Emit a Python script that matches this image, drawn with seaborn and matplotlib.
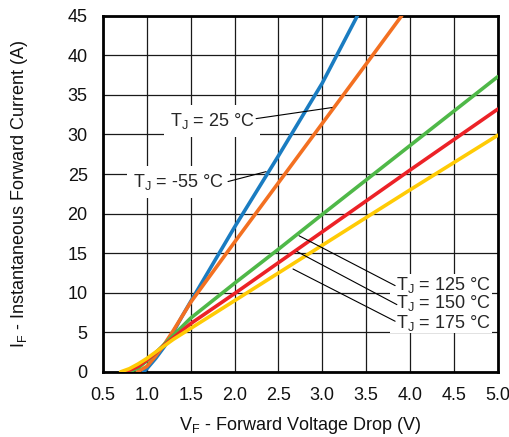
import numpy as np
import pandas as pd
import matplotlib
matplotlib.use("Agg")
import matplotlib.pyplot as plt
from matplotlib.patches import Rectangle
import seaborn as sns

# ── Data ────────────────────────────────────────────────────
TEMPS = ["-55", "25", "125", "150", "175"]

V_M55 = [0.96, 1.0, 1.1, 1.2, 1.3, 1.4, 1.5, 2.0, 2.5, 3.0, 3.40]
I_M55 = [0.0, 0.4, 1.7, 3.2, 5.0, 7.0, 8.9, 18.3, 27.3, 36.5, 45.0]

V_25 = [0.89, 1.0, 1.1, 1.2, 1.3, 1.4, 1.5, 2.0, 2.5, 3.0, 3.5, 3.905]
I_25 = [0.0, 0.7, 2.0, 3.5, 5.2, 7.0, 8.8, 16.4, 23.9, 31.4, 38.9, 45.0]

V_125 = [0.80, 0.9, 1.0, 1.1, 1.2, 1.3, 1.5, 2.0, 2.5, 3.0, 4.0, 5.0]
I_125 = [0.0, 0.5, 1.4, 2.4, 3.5, 4.6, 6.8, 11.2, 15.5, 19.9, 28.6, 37.3]

V_150 = [0.76, 0.9, 1.0, 1.1, 1.2, 1.3, 1.5, 2.0, 2.5, 3.0, 4.0, 5.0]
I_150 = [0.0, 0.7, 1.5, 2.4, 3.4, 4.3, 6.1, 9.9, 13.8, 17.7, 25.5, 33.2]

V_175 = [0.70, 0.8, 0.9, 1.0, 1.1, 1.2, 1.3, 1.5, 2.0, 2.5, 3.0, 4.0, 5.0]
I_175 = [0.0, 0.4, 1.0, 1.7, 2.5, 3.3, 4.1, 5.5, 9.0, 12.5, 16.0, 23.0, 29.9]

X_TICKS = [0.5, 1.0, 1.5, 2.0, 2.5, 3.0, 3.5, 4.0, 4.5, 5.0]
Y_TICKS = [0, 5, 10, 15, 20, 25, 30, 35, 40, 45]

COLORS = {"-55": "#1a7cc1", "25": "#f37021", "125": "#4fb848",
          "150": "#ec2227", "175": "#ffcb05"}

curves = {"-55": (V_M55, I_M55), "25": (V_25, I_25), "125": (V_125, I_125),
          "150": (V_150, I_150), "175": (V_175, I_175)}
df = pd.concat([pd.DataFrame({"V": v, "I": i, "T": t})
                for t, (v, i) in curves.items()], ignore_index=True)

# ── Style ──────────────────────────────────────────────────
sns.set_theme(style="white")
plt.rcParams["font.family"] = ["Liberation Sans", "DejaVu Sans"]
plt.rcParams["mathtext.fontset"] = "custom"
plt.rcParams["mathtext.rm"] = "Liberation Sans"

fig = plt.figure(figsize=(5.10, 4.37), dpi=100)
ax = fig.add_axes([0.202, 0.149, 0.774, 0.815])

sns.lineplot(data=df, x="V", y="I", hue="T", hue_order=TEMPS,
             palette=COLORS, sort=False, estimator=None,
             linewidth=2.6, legend=False, ax=ax, zorder=3)

ax.set_xlim(0.5, 5.0)
ax.set_ylim(0, 45)
ax.set_xticks(X_TICKS)
ax.set_xticklabels([f"{t:.1f}" for t in X_TICKS])
ax.set_yticks(Y_TICKS)
ax.grid(True, color="#1a1a1a", linewidth=0.9)
ax.set_axisbelow(True)
ax.tick_params(length=0, labelsize=13, colors="#111111")
ax.tick_params(axis="x", pad=11)
ax.tick_params(axis="y", pad=11)
for s in ax.spines.values():
    s.set_visible(True)
    s.set_color("black")
    s.set_linewidth(2.0)

ax.set_xlabel(r"V$_\mathregular{F}$ - Forward Voltage Drop (V)",
              fontsize=13, labelpad=8, color="#111111")
ax.set_ylabel(r"I$_\mathregular{F}$ - Instantaneous Forward Current (A)",
              fontsize=13, labelpad=27, color="#111111")

# ── Annotations ────────────────────────────────────────────
box = dict(facecolor="white", edgecolor="none", pad=4)
lab = r"T$_\mathregular{J}$ = %s °C"

ax.text(1.743, 31.7, lab % "25", ha="center", va="center", fontsize=13,
        bbox=box, zorder=4)
ax.plot([2.245, 3.111], [32.0, 33.4], color="black", lw=0.8, zorder=5)

ax.text(1.36, 24.0, lab % "-55", ha="center", va="center", fontsize=13,
        bbox=box, zorder=4)
ax.plot([1.925, 2.359], [24.05, 25.3], color="black", lw=0.8, zorder=5)

# one white patch behind the three stacked labels
ax.add_patch(Rectangle((3.77, 4.9), 1.16, 7.5, facecolor="white",
                       edgecolor="none", zorder=2.5))
for t, y, start, end in [("125", 11.0, (2.735, 17.2), (3.83, 10.9)),
                         ("150", 8.7, (2.712, 15.2), (3.85, 8.5)),
                         ("175", 6.2, (2.666, 13.0), (3.83, 6.4))]:
    ax.text(3.84, y, lab % t, ha="left", va="center", fontsize=13, zorder=4)
    ax.plot([start[0], end[0]], [start[1], end[1]], color="black",
            lw=0.8, zorder=5)

plt.savefig("out.png", dpi=100)
